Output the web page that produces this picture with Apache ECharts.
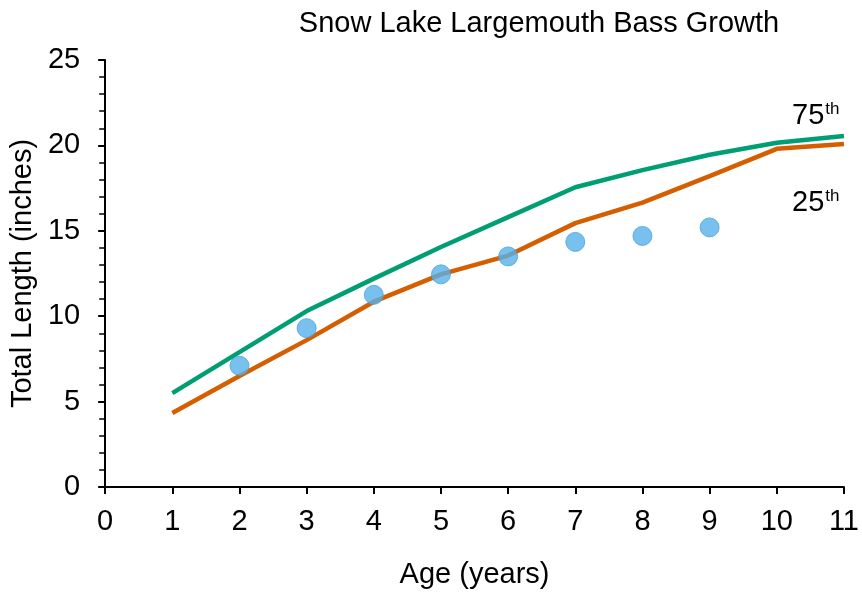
<!DOCTYPE html>
<html><head><meta charset="utf-8">
<script src="https://cdn.jsdelivr.net/npm/echarts@6/dist/echarts.min.js"></script>
<style>html,body{margin:0;padding:0;background:#fff}#c{width:862px;height:597px}</style>
</head><body><div id="c"></div>
<script>
const ages = [1,2,3,4,5,6,7,8,9,10,11];
const p75 = [5.5,7.9,10.3,12.2,14.05,15.8,17.55,18.55,19.45,20.15,20.55];
const p25 = [4.33,6.5,8.6,10.85,12.45,13.55,15.45,16.65,18.2,19.8,20.08];
const obsAges = [2,3,4,5,6,7,8,9];
const obsLen = [7.1,9.3,11.25,12.45,13.5,14.35,14.7,15.2];
const title = 'Snow Lake Largemouth Bass Growth';
const xName = 'Age (years)';
const yName = 'Total Length (inches)';

const F = '"Liberation Sans", Arial, sans-serif';
const FS = 29;
const chart = echarts.init(document.getElementById('c'), null, {renderer:'canvas'});
const sup = {b:{fontFamily:F,fontSize:FS,fill:'#000',lineHeight:30},s:{fontFamily:F,fontSize:17,fill:'#000',verticalAlign:'top',lineHeight:30,padding:[0,0,12,1]}};
chart.setOption({
  animation:false,
  title:{text:title,left:534,top:4,textAlign:'center',textStyle:{fontFamily:F,fontSize:FS,fontWeight:'normal',color:'#000'}},
  grid:{left:104,right:18,top:60,bottom:110,containLabel:false},
  xAxis:{type:'value',min:0,max:11,interval:1,name:xName,nameLocation:'middle',nameGap:73,
    nameTextStyle:{fontFamily:F,fontSize:FS,color:'#000'},
    axisLine:{onZero:false,lineStyle:{color:'#000',width:2}},
    axisTick:{show:true,inside:false,length:7,lineStyle:{color:'#000',width:2}},
    axisLabel:{fontFamily:F,fontSize:FS,color:'#000',margin:20},
    splitLine:{show:false}},
  yAxis:{type:'value',min:0,max:25,interval:5,name:yName,nameLocation:'middle',nameGap:64,
    nameTextStyle:{fontFamily:F,fontSize:FS,color:'#000'},
    axisLine:{lineStyle:{color:'#000',width:2}},
    axisTick:{show:true,length:7,lineStyle:{color:'#000',width:2}},
    minorTick:{show:true,splitNumber:5,length:6,lineStyle:{color:'#000',width:1.5}},
    axisLabel:{fontFamily:F,fontSize:FS,color:'#000',margin:25},
    splitLine:{show:false}},
  series:[
    {type:'line',name:'75th',data:ages.map((a,i)=>[a,p75[i]]),showSymbol:false,symbol:'none',
      lineStyle:{color:'#009E73',width:4.5},z:2},
    {type:'line',name:'25th',data:ages.map((a,i)=>[a,p25[i]]),showSymbol:false,symbol:'none',
      lineStyle:{color:'#D55E00',width:4.5},z:2},
    {type:'scatter',name:'Snow Lake',data:obsAges.map((a,i)=>[a,obsLen[i]]),symbol:'circle',symbolSize:19,
      itemStyle:{color:'#56B0E8',borderColor:'#4aa3dc',borderWidth:1},z:3}
  ],
  graphic:[
    {type:'text',left:792,top:101,style:{text:'{b|75}{s|th}',rich:sup}},
    {type:'text',left:792,top:188,style:{text:'{b|25}{s|th}',rich:sup}}
  ]
});
</script></body></html>
